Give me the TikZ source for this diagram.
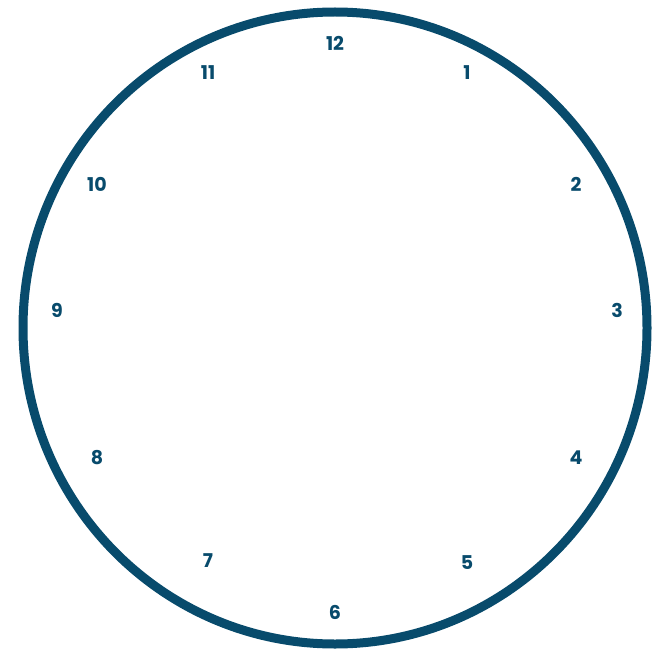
\documentclass[tikz,border=0pt]{standalone}
\usepackage{fontspec}
\setmainfont{Poppins}
\definecolor{dialblue}{HTML}{084B6C}
\tikzset{hour/.style={font=\bfseries\fontsize{19}{19}\selectfont,text=dialblue,inner sep=0pt}}

\begin{document}
\begin{tikzpicture}[x=1pt,y=-1pt]
    \useasboundingbox (0,0) rectangle (653,650);
    % Dial rim
    \draw[dialblue,line width=9pt] (335,328) ellipse [x radius=312, y radius=316];
    % Hours: {hour/x/y}
    \foreach \h/\x/\y in {12/335/43, 1/467/73, 2/576/184, 3/617/310, 4/576/458, 5/467/563,
                          6/335/612, 7/208/561, 8/97/458, 9/57/310, 10/97/184, 11/208/73}
      \node[hour] (h\h) at (\x,\y) {\h};
\end{tikzpicture}
\end{document}
